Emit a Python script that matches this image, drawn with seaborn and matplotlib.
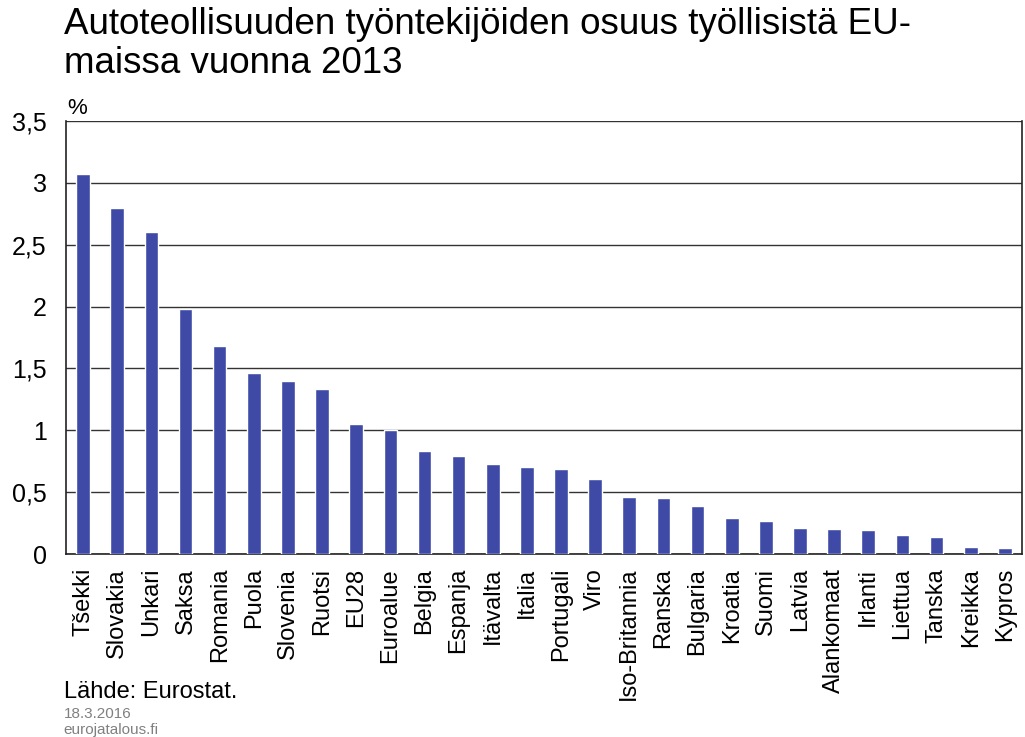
import matplotlib
matplotlib.use("Agg")
import matplotlib.pyplot as plt
from matplotlib.ticker import FuncFormatter, MultipleLocator
import seaborn as sns
import pandas as pd

countries = ["Tšekki", "Slovakia", "Unkari", "Saksa", "Romania", "Puola", "Slovenia",
             "Ruotsi", "EU28", "Euroalue", "Belgia", "Espanja", "Itävalta", "Italia",
             "Portugali", "Viro", "Iso-Britannia", "Ranska", "Bulgaria", "Kroatia",
             "Suomi", "Latvia", "Alankomaat", "Irlanti", "Liettua", "Tanska",
             "Kreikka", "Kypros"]
share = [3.07, 2.80, 2.60, 1.98, 1.68, 1.46, 1.40, 1.33, 1.05, 1.00, 0.83, 0.79,
         0.73, 0.70, 0.69, 0.61, 0.46, 0.45, 0.39, 0.29, 0.27, 0.21, 0.20, 0.19,
         0.15, 0.14, 0.06, 0.05]

df = pd.DataFrame({"maa": countries, "osuus": share})

sns.set_style("white")
plt.rcParams["font.family"] = ["Liberation Sans", "DejaVu Sans"]
plt.rcParams["text.color"] = "black"
plt.rcParams["xtick.color"] = "black"
plt.rcParams["ytick.color"] = "black"

fig = plt.figure(figsize=(10.25, 7.37), dpi=100)
ax = fig.add_axes([0.0644, 0.2483, 0.9326, 0.5875])

sns.barplot(data=df, x="maa", y="osuus", color="#3f4aa6", width=0.4,
            saturation=1, ax=ax, zorder=3)

ax.set_ylim(0, 3.5)
ax.yaxis.set_major_locator(MultipleLocator(0.5))
ax.yaxis.set_major_formatter(FuncFormatter(lambda v, p: f"{v:g}".replace(".", ",")))
ax.grid(axis="y", color="#333333", linewidth=1.0, zorder=0)
ax.set_xlim(-0.5, len(countries) - 0.5)
ax.set_xlabel("")
ax.set_ylabel("")
for s in ["left", "right", "bottom"]:
    ax.spines[s].set_color("#222222")
    ax.spines[s].set_linewidth(1.2)
ax.spines["top"].set_visible(False)
ax.tick_params(axis="y", labelsize=18, length=0, pad=14)
ax.tick_params(axis="x", labelsize=17, length=0, pad=10, rotation=90)

fig.text(0.062, 0.99, "Autoteollisuuden työntekijöiden osuus työllisistä EU-\nmaissa vuonna 2013",
         fontsize=26.5, va="top", ha="left", linespacing=1.12)
fig.text(0.066, 0.838, "%", fontsize=16, va="bottom", ha="left")
fig.text(0.062, 0.046, "Lähde: Eurostat.", fontsize=17, va="bottom", ha="left")
fig.text(0.062, 0.022, "18.3.2016", fontsize=11, color="#808080", va="bottom", ha="left")
fig.text(0.062, 0.0, "eurojatalous.fi", fontsize=11, color="#808080", va="bottom", ha="left")

fig.savefig("out.png", dpi=100)
